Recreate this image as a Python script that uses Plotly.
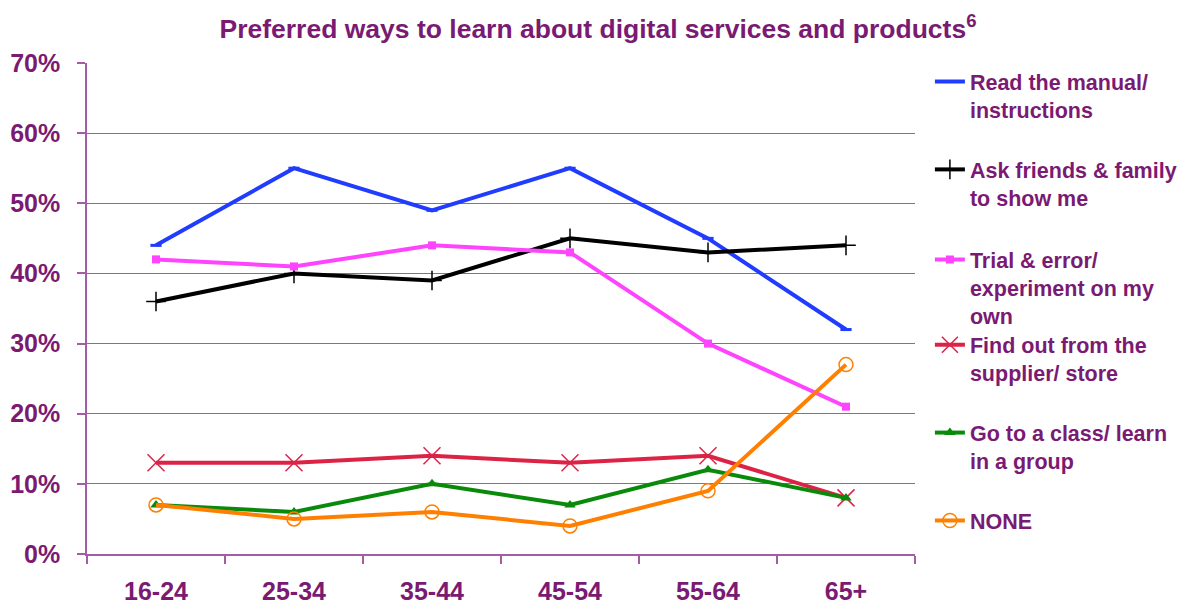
import plotly.graph_objects as go

# age groups and % of respondents per preferred way
ages = ["16-24", "25-34", "35-44", "45-54", "55-64", "65+"]
manual = [44, 55, 49, 55, 45, 32]
friends = [36, 40, 39, 45, 43, 44]
trial = [42, 41, 44, 43, 30, 21]
supplier = [13, 13, 14, 13, 14, 8]
class_group = [7, 6, 10, 7, 12, 8]
none = [7, 5, 6, 4, 9, 27]

PURPLE = "#7a1a72"
GRID = "#a45ca4"
FONT = "Liberation Sans, Arial, sans-serif"

series = [
    ("Read the manual/<br>instructions", manual, "#1f3cff", dict(symbol="line-ew", size=8, line=dict(width=3, color="#1f3cff")), 1.004),
    ("Ask friends & family<br>to show me", friends, "#000000", dict(symbol="cross-thin", size=14, line=dict(width=1.5, color="#000000")), 0.825),
    ("Trial & error/<br>experiment on my<br>own", trial, "#ff44ff", dict(symbol="square", size=8), 0.6415),
    ("Find out from the<br>supplier/ store", supplier, "#dc2346", dict(symbol="x-thin", size=17, line=dict(width=1.5, color="#dc2346")), 0.468),
    ("Go to a class/ learn<br>in a group", class_group, "#0a8a0a", dict(symbol="triangle-up", size=10), 0.289),
    ("NONE", none, "#ff8000", dict(symbol="circle-open", size=14, line=dict(width=1.5, color="#ff8000")), 0.110),
]

fig = go.Figure()
legends = {}
for i, (name, vals, color, marker, ly) in enumerate(series):
    key = "legend" if i == 0 else f"legend{i + 1}"
    fig.add_trace(go.Scatter(
        x=ages, y=vals, name="<b>" + name.replace("<br>", "</b><br><b>") + "</b>",
        mode="lines+markers",
        line=dict(color=color, width=4),
        marker=dict(color=color, **marker),
        legend=key,
    ))
    legends[key] = dict(
        x=1.018, y=ly, xanchor="left", yanchor="top", valign="top",
        bgcolor="rgba(0,0,0,0)",
        font=dict(family=FONT, size=21.5, color=PURPLE),
    )

# page body has an 8px margin, so the figure is sized/offset to compensate
fig.update_layout(
    width=1180, height=597,
    margin=dict(l=79, r=273, t=55, b=51, autoexpand=False),
    paper_bgcolor="white", plot_bgcolor="white",
    title=dict(
        text="<b>Preferred ways to learn about digital services and products<sup>6</sup></b>",
        x=0.5, xanchor="center", y=0.965, yanchor="middle",
        font=dict(family=FONT, size=26.5, color=PURPLE),
    ),
    font=dict(family=FONT, color=PURPLE),
    showlegend=True,
    **legends,
)

fig.update_xaxes(
    range=[-0.5, 5.5],
    showline=True, linecolor=GRID, linewidth=1.5,
    ticks="outside", tickson="boundaries", ticklen=8, tickcolor=GRID, tickwidth=1.5,
    showgrid=False, ticklabelstandoff=14,
    tickfont=dict(family=FONT, size=25, color=PURPLE),
    tickprefix="<b>", ticksuffix="</b>",
)
fig.update_yaxes(
    range=[0, 70], dtick=10, ticksuffix="%</b>", tickprefix="<b>",
    showline=True, linecolor=GRID, linewidth=1.5,
    ticks="outside", ticklen=8, tickcolor=GRID, tickwidth=1.5,
    showgrid=True, gridcolor=GRID, gridwidth=1.2,
    zeroline=False, ticklabelstandoff=12,
    tickfont=dict(family=FONT, size=25, color=PURPLE),
)

fig.write_html("out.html")
